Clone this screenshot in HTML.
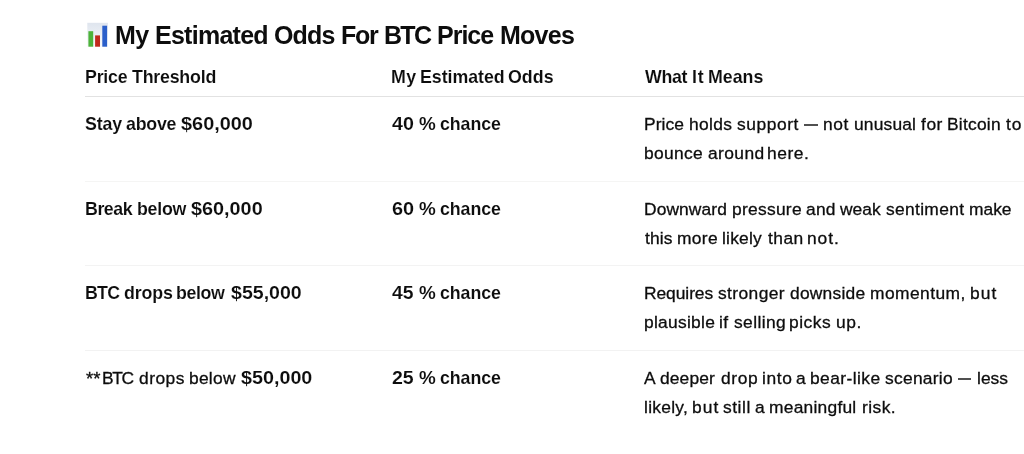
<!DOCTYPE html>
<html><head><meta charset="utf-8">
<style>
html,body{margin:0;padding:0;background:#fff;}
body{width:1024px;height:454px;overflow:hidden;position:relative;font-family:"Liberation Sans",sans-serif;color:#0d0d0d;}
.t{position:absolute;white-space:nowrap;line-height:20px;height:20px;will-change:transform;}
.h1{font-size:25px;font-weight:bold;line-height:30px;height:30px;-webkit-text-stroke:0px #fff;}
.b{font-size:17.8px;font-weight:bold;-webkit-text-stroke:0.1px #fff;}
.r{font-size:17.4px;font-weight:normal;-webkit-text-stroke:0.3px #0d0d0d;}
.d{position:absolute;height:2px;background:#505050;}
.line{position:absolute;left:85px;right:0;height:1px;}
</style></head><body>
<svg style="position:absolute;left:87px;top:22px" width="22" height="26" viewBox="0 0 22 26">
<defs><linearGradient id="pg" x1="0" y1="0" x2="0" y2="1"><stop offset="0" stop-color="#dfe5ee"/><stop offset="1" stop-color="#f7f9fb"/></linearGradient></defs>
<rect x="0.3" y="0.8" width="20.6" height="24.1" fill="url(#pg)"/>
<rect x="1.4" y="9.2" width="4.8" height="15.5" fill="#4db33a"/>
<rect x="8.1" y="13.4" width="4.9" height="11.3" fill="#c1291d"/>
<rect x="15.3" y="3.7" width="4.8" height="21" fill="#2b5fca"/>
</svg>
<div class="t h1" id="w0_0" style="left:114.89px;top:20.00px;letter-spacing:-0.627px">My</div>
<div class="t h1" id="w0_1" style="left:154.73px;top:20.00px;letter-spacing:-0.735px">Estimated</div>
<div class="t h1" id="w0_2" style="left:274.49px;top:20.00px;letter-spacing:-0.857px">Odds</div>
<div class="t h1" id="w0_3" style="left:341.15px;top:20.00px;letter-spacing:-1.250px">For</div>
<div class="t h1" id="w0_4" style="left:383.83px;top:20.00px;letter-spacing:-1.705px">BTC</div>
<div class="t h1" id="w0_5" style="left:437.39px;top:20.00px;letter-spacing:-1.005px">Price</div>
<div class="t h1" id="w0_6" style="left:500.44px;top:20.00px;letter-spacing:-0.755px">Moves</div>
<div class="t b" id="w1_0" style="left:84.95px;top:67.00px;letter-spacing:-0.228px">Price</div>
<div class="t b" id="w1_1" style="left:132.10px;top:67.00px;letter-spacing:-0.211px">Threshold</div>
<div class="t b" id="w2_0" style="left:391.41px;top:67.00px;letter-spacing:0.320px">My</div>
<div class="t b" id="w2_1" style="left:420.23px;top:67.00px;letter-spacing:-0.045px">Estimated</div>
<div class="t b" id="w2_2" style="left:508.19px;top:67.00px;letter-spacing:0.024px">Odds</div>
<div class="t b" id="w3_0" style="left:644.53px;top:67.00px;letter-spacing:-0.304px">What</div>
<div class="t b" id="w3_1" style="left:692.47px;top:67.00px;letter-spacing:0.740px">It</div>
<div class="t b" id="w3_2" style="left:708.13px;top:67.00px;letter-spacing:0.002px">Means</div>
<div class="t b" id="w4_0" style="left:84.64px;top:113.70px;letter-spacing:-0.134px">Stay</div>
<div class="t b" id="w4_1" style="left:126.30px;top:113.70px;letter-spacing:-0.222px">above</div>
<div class="t b" id="w4_2" style="left:180.69px;top:114.00px;transform:scaleX(1.1189);transform-origin:0 0">$60,000</div>
<div class="t b" id="w5_0" style="left:392.46px;top:114.00px;transform:scaleX(1.1058);transform-origin:0 0">40</div>
<div class="t b" id="w5_1" style="left:419.10px;top:114.00px;transform:scaleX(1.0597);transform-origin:0 0">%</div>
<div class="t b" id="w5_2" style="left:440.06px;top:113.70px;letter-spacing:-0.065px">chance</div>
<div class="t r" id="w6_0" style="left:643.81px;top:113.70px;letter-spacing:0.074px">Price</div>
<div class="t r" id="w6_1" style="left:688.77px;top:113.70px;letter-spacing:0.368px">holds</div>
<div class="t r" id="w6_2" style="left:737.10px;top:113.70px;letter-spacing:0.562px">support</div>
<div class="d" style="left:804.0px;top:124.0px;width:14.0px"></div>
<div class="t r" id="w6_4" style="left:822.58px;top:113.70px;letter-spacing:0.637px">not</div>
<div class="t r" id="w6_5" style="left:853.85px;top:113.70px;letter-spacing:0.171px">unusual</div>
<div class="t r" id="w6_6" style="left:920.54px;top:113.70px;letter-spacing:0.555px">for</div>
<div class="t r" id="w6_7" style="left:947.00px;top:113.70px;letter-spacing:0.242px">Bitcoin</div>
<div class="t r" id="w6_8" style="left:1005.70px;top:113.70px;letter-spacing:0.957px">to</div>
<div class="t r" id="w7_0" style="left:644.38px;top:143.40px;letter-spacing:0.321px">bounce</div>
<div class="t r" id="w7_1" style="left:707.56px;top:143.40px;letter-spacing:0.409px">around</div>
<div class="t r" id="w7_2" style="left:767.35px;top:143.40px;letter-spacing:0.548px">here.</div>
<div class="t b" id="w8_0" style="left:84.95px;top:198.60px;letter-spacing:-0.451px">Break</div>
<div class="t b" id="w8_1" style="left:136.70px;top:198.60px;letter-spacing:-0.238px">below</div>
<div class="t b" id="w8_2" style="left:190.99px;top:199.00px;transform:scaleX(1.1148);transform-origin:0 0">$60,000</div>
<div class="t b" id="w9_0" style="left:391.56px;top:199.00px;transform:scaleX(1.1174);transform-origin:0 0">60</div>
<div class="t b" id="w9_1" style="left:419.10px;top:199.00px;transform:scaleX(1.0597);transform-origin:0 0">%</div>
<div class="t b" id="w9_2" style="left:440.06px;top:198.60px;letter-spacing:-0.065px">chance</div>
<div class="t r" id="w10_0" style="left:643.77px;top:198.60px;letter-spacing:0.096px">Downward</div>
<div class="t r" id="w10_1" style="left:731.83px;top:198.60px;letter-spacing:0.270px">pressure</div>
<div class="t r" id="w10_2" style="left:806.28px;top:198.60px;letter-spacing:0.233px">and</div>
<div class="t r" id="w10_3" style="left:840.40px;top:198.60px;letter-spacing:0.000px">weak</div>
<div class="t r" id="w10_4" style="left:886.18px;top:198.60px;letter-spacing:0.325px">sentiment</div>
<div class="t r" id="w10_5" style="left:969.28px;top:198.60px;letter-spacing:-0.011px">make</div>
<div class="t r" id="w11_0" style="left:644.88px;top:227.90px;letter-spacing:0.122px">this</div>
<div class="t r" id="w11_1" style="left:677.30px;top:227.90px;letter-spacing:0.323px">more</div>
<div class="t r" id="w11_2" style="left:722.29px;top:227.90px;letter-spacing:0.205px">likely</div>
<div class="t r" id="w11_3" style="left:767.70px;top:227.90px;letter-spacing:0.443px">than</div>
<div class="t r" id="w11_4" style="left:807.04px;top:227.90px;letter-spacing:0.909px">not.</div>
<div class="t b" id="w12_0" style="left:84.95px;top:283.30px;letter-spacing:-0.787px">BTC</div>
<div class="t b" id="w12_1" style="left:124.07px;top:283.30px;letter-spacing:-0.098px">drops</div>
<div class="t b" id="w12_2" style="left:176.20px;top:283.30px;letter-spacing:-0.369px">below</div>
<div class="t b" id="w12_3" style="left:230.66px;top:283.00px;transform:scaleX(1.1007);transform-origin:0 0">$55,000</div>
<div class="t b" id="w13_0" style="left:392.42px;top:283.00px;transform:scaleX(1.0905);transform-origin:0 0">45</div>
<div class="t b" id="w13_1" style="left:419.10px;top:283.00px;transform:scaleX(1.0597);transform-origin:0 0">%</div>
<div class="t b" id="w13_2" style="left:440.06px;top:283.30px;letter-spacing:-0.065px">chance</div>
<div class="t r" id="w14_0" style="left:643.77px;top:283.30px;letter-spacing:-0.062px">Requires</div>
<div class="t r" id="w14_1" style="left:717.95px;top:283.30px;letter-spacing:0.405px">stronger</div>
<div class="t r" id="w14_2" style="left:790.29px;top:283.30px;letter-spacing:0.230px">downside</div>
<div class="t r" id="w14_3" style="left:870.04px;top:283.30px;letter-spacing:0.435px">momentum,</div>
<div class="t r" id="w14_4" style="left:969.82px;top:283.30px;letter-spacing:1.023px">but</div>
<div class="t r" id="w15_0" style="left:644.39px;top:312.30px;letter-spacing:0.272px">plausible</div>
<div class="t r" id="w15_1" style="left:719.13px;top:312.30px;letter-spacing:0.493px">if</div>
<div class="t r" id="w15_2" style="left:733.76px;top:312.30px;letter-spacing:0.399px">selling</div>
<div class="t r" id="w15_3" style="left:789.01px;top:312.30px;letter-spacing:0.492px">picks</div>
<div class="t r" id="w15_4" style="left:836.01px;top:312.30px;letter-spacing:0.520px">up.</div>
<div class="t r" id="w16_0" style="left:85.90px;top:367.60px;letter-spacing:0.000px;font-size:18.5px;margin-top:1px">**</div>
<div class="t r" id="w16_1" style="left:102.26px;top:367.60px;letter-spacing:-1.393px">BTC</div>
<div class="t r" id="w16_2" style="left:138.96px;top:367.60px;letter-spacing:0.468px">drops</div>
<div class="t r" id="w16_3" style="left:189.06px;top:367.60px;letter-spacing:0.255px">below</div>
<div class="t b" id="w17_0" style="left:241.37px;top:368.00px;transform:scaleX(1.1100);transform-origin:0 0">$50,000</div>
<div class="t b" id="w18_0" style="left:391.93px;top:368.00px;transform:scaleX(1.0990);transform-origin:0 0">25</div>
<div class="t b" id="w18_1" style="left:419.10px;top:368.00px;transform:scaleX(1.0597);transform-origin:0 0">%</div>
<div class="t b" id="w18_2" style="left:440.06px;top:367.60px;letter-spacing:-0.065px">chance</div>
<div class="t r" id="w19_0" style="left:644.34px;top:367.60px;">A</div>
<div class="t r" id="w19_1" style="left:659.67px;top:367.60px;letter-spacing:0.123px">deeper</div>
<div class="t r" id="w19_2" style="left:720.75px;top:367.60px;letter-spacing:0.591px">drop</div>
<div class="t r" id="w19_3" style="left:761.93px;top:367.60px;letter-spacing:0.652px">into</div>
<div class="t r" id="w19_4" style="left:796.35px;top:367.60px;">a</div>
<div class="t r" id="w19_5" style="left:810.43px;top:367.60px;letter-spacing:0.424px">bear-like</div>
<div class="t r" id="w19_6" style="left:885.39px;top:367.60px;letter-spacing:0.273px">scenario</div>
<div class="d" style="left:957.6px;top:378.0px;width:13.9px"></div>
<div class="t r" id="w19_8" style="left:976.77px;top:367.60px;letter-spacing:0.027px">less</div>
<div class="t r" id="w20_0" style="left:644.37px;top:396.80px;letter-spacing:0.267px">likely,</div>
<div class="t r" id="w20_1" style="left:691.59px;top:396.80px;letter-spacing:1.032px">but</div>
<div class="t r" id="w20_2" style="left:723.23px;top:396.80px;letter-spacing:0.532px">still</div>
<div class="t r" id="w20_3" style="left:754.84px;top:396.80px;">a</div>
<div class="t r" id="w20_4" style="left:768.65px;top:396.80px;letter-spacing:0.238px">meaningful</div>
<div class="t r" id="w20_5" style="left:861.81px;top:396.80px;letter-spacing:0.450px">risk.</div>
<div class="line" style="top:96px;background:#e2e2e2"></div>
<div class="line" style="top:181px;background:#f5f5f4"></div>
<div class="line" style="top:265px;background:#f3f3f3"></div>
<div class="line" style="top:350px;background:#f2f2f2"></div>
</body></html>
